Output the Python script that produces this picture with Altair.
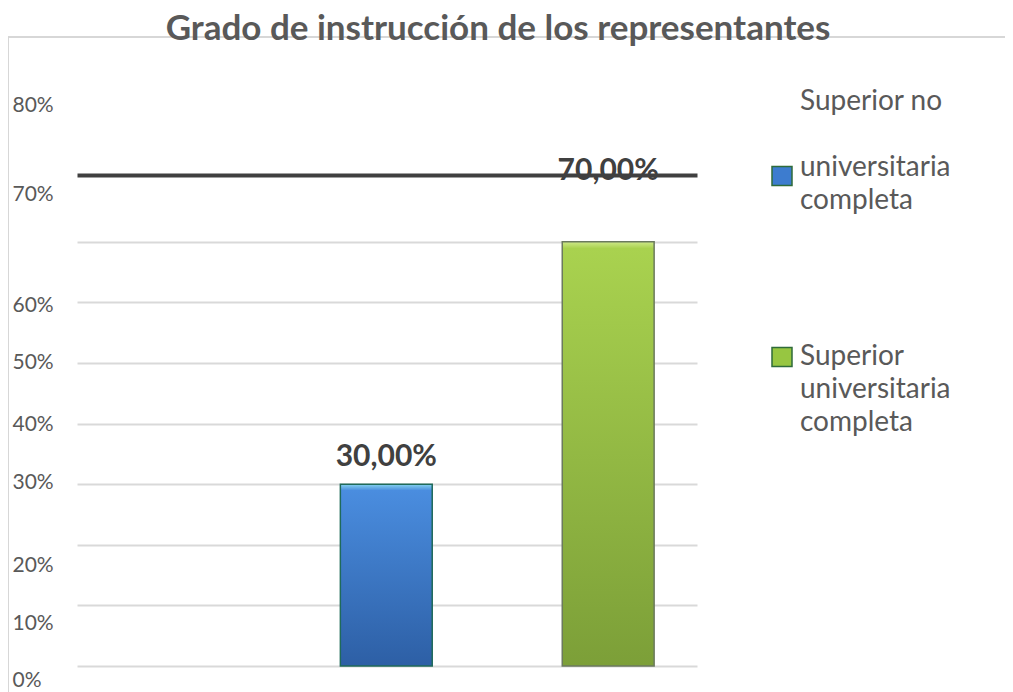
import altair as alt
import pandas as pd

categories = ["Superior no universitaria completa", "Superior universitaria completa"]
values = [0.30, 0.70]
y_ticks = [0, 0.1, 0.2, 0.3, 0.4, 0.5, 0.6, 0.7, 0.8]
title_text = "Grado de instrucción de los representantes"

df = pd.DataFrame({"cat": categories, "value": values})

BLANK = "\u2800"

def grad(c_top, c_main, c_bot, edge):
    return alt.LinearGradient(
        gradient="linear",
        stops=[
            alt.GradientStop(color=c_top, offset=0),
            alt.GradientStop(color=c_main, offset=edge),
            alt.GradientStop(color=c_bot, offset=1),
        ],
        x1=0, x2=0, y1=0, y2=1,
    )

blue_grad = grad("#86d2ee", "#4a8ddf", "#2d5fa5", 0.035)
green_grad = grad("#cfe98a", "#a9d24f", "#7c9f38", 0.016)

xscale = alt.Scale(domain=categories, paddingInner=0.586, paddingOuter=0.69, align=0.86)
yscale = alt.Scale(domain=[0, 0.81], nice=False, zero=True)

label_offset = {
    "condition": [
        {"test": "datum.value < 0.05", "value": 14},
        {"test": "datum.value < 0.15", "value": 18},
        {"test": "datum.value < 0.25", "value": 21},
        {"test": "datum.value < 0.35", "value": -2},
        {"test": "datum.value < 0.45", "value": 1},
        {"test": "datum.value < 0.55", "value": 0},
        {"test": "datum.value < 0.65", "value": 3},
        {"test": "datum.value < 0.75", "value": -47},
    ],
    "value": -76,
}

yaxis = alt.Axis(
    values=y_ticks, format=".0%", title=None, domain=False, ticks=False,
    labelFont="Lato", labelFontSize=21, labelColor="#595959",
    labelAlign="left", labelPadding=65, labelOffset=label_offset,
    grid=True, gridColor="#d9d9d9", gridWidth=2,
    gridOpacity={"condition": {"test": "datum.value > 0.75", "value": 0}, "value": 1},
)
xaxis = alt.Axis(orient="top", title=None, labels=False, ticks=False, grid=False,
                 domain=True, domainColor="#404040", domainWidth=4)

legend = alt.Legend(
    orient="none", legendX=691, legendY=-87, title=None, padding=0,
    symbolSize=400, symbolStrokeColor="#2f6b3a",
    symbolStrokeWidth=1.5, symbolOpacity=1, symbolFillColor="#3d7ccf",
    labelFont="Lato", labelFontSize=28, labelColor="#595959", labelLimit=400,
    labelOffset=4, rowPadding=128,
    labelExpr=("datum.label == 'Superior no universitaria completa' ? "
               "['Superior no', '" + BLANK + "', 'universitaria', 'completa'] : "
               "['Superior', 'universitaria', 'completa']"),
)

color_scale = alt.Scale(domain=categories, range=["#3d7ccf", "#97c641"])
shape_scale = alt.Scale(
    domain=categories,
    range=["M-1,6.45L1,6.45L1,8.35L-1,8.35Z", "M-1,-0.95L1,-0.95L1,0.95L-1,0.95Z"],
)

base = alt.Chart(df)

bars = base.mark_bar().encode(
    x=alt.X("cat:N", scale=xscale, axis=xaxis, sort=categories),
    y=alt.Y("value:Q", scale=yscale, axis=yaxis),
    color=alt.Color("cat:N", scale=color_scale, legend=legend),
)

legend_pts = base.mark_point(filled=True, opacity=0).encode(
    x=alt.X("cat:N", sort=categories),
    y="value:Q",
    color=alt.Color("cat:N", scale=color_scale, legend=legend),
    shape=alt.Shape("cat:N", scale=shape_scale, legend=legend),
    size=alt.value(1),
)

blue_bar = base.transform_filter(alt.datum.cat == categories[0]).mark_bar(
    fill=blue_grad, stroke="#1f6a5a", strokeWidth=1.5
).encode(x=alt.X("cat:N", sort=categories), y="value:Q")

green_bar = base.transform_filter(alt.datum.cat == categories[1]).mark_bar(
    fill=green_grad, stroke="#6b7a5e", strokeWidth=1.5
).encode(x=alt.X("cat:N", sort=categories), y="value:Q")

lab = base.transform_calculate(
    lbl="replace(format(datum.value * 100, '.2f'), '.', ',') + '%'"
)
text_low = lab.transform_filter(alt.datum.value < 0.5).mark_text(
    font="Lato", fontSize=30, fontWeight="bold", color="#404040", baseline="middle", dy=-27
).encode(x=alt.X("cat:N", sort=categories), y="value:Q", text="lbl:N")
text_high = lab.transform_filter(alt.datum.value >= 0.5).mark_text(
    font="Lato", fontSize=30, fontWeight="bold", color="#404040", baseline="middle", dy=-71
).encode(x=alt.X("cat:N", sort=categories), y="value:Q", text="lbl:N")

frame_top = base.mark_rule(color="#d4d4d4", strokeWidth=1.5).encode(
    x=alt.value(-69), x2=alt.value(940), y=alt.value(-138)
)
frame_left = base.mark_rule(color="#d4d4d4", strokeWidth=1.5).encode(
    x=alt.value(-69), y=alt.value(-138), y2=alt.value(530)
)

chart = alt.layer(frame_top, frame_left, bars, legend_pts, blue_bar, green_bar,
                  text_low, text_high).properties(
    width=620, height=491,
    title=alt.TitleParams(title_text, font="Lato", fontSize=35, fontWeight="bold",
                          color="#595959", anchor="middle", dx=111, dy=39, offset=0,
                          baseline="alphabetic"),
    autosize=alt.AutoSizeParams(type="none"),
    padding={"left": 69, "top": 167, "right": 308, "bottom": 30},
).configure(
    background="white",
    style={"guide-label": {"lineHeight": 33}},
    view={"stroke": None},
)

chart.save("out.html", embed_options={"renderer": "svg", "actions": False})
